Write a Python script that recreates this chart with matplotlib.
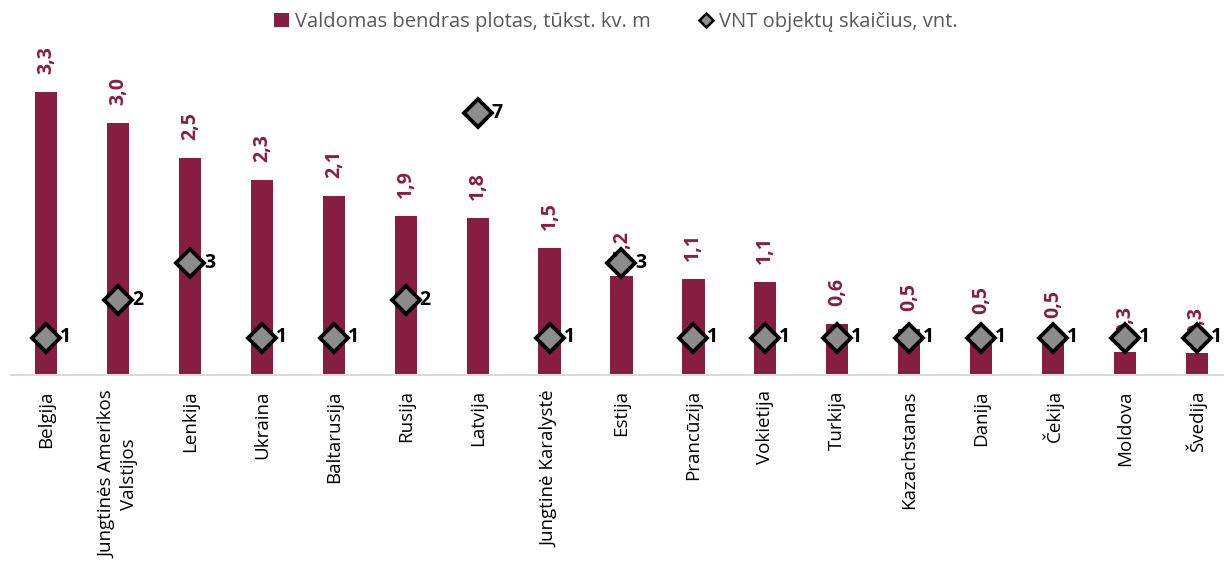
import matplotlib
matplotlib.use("Agg")
import matplotlib.pyplot as plt
from matplotlib.lines import Line2D
from matplotlib.patches import Patch

plt.rcParams['font.family'] = ['Open Sans', 'DejaVu Sans']

categories = ["Belgija", "Jungtinės Amerikos\nValstijos", "Lenkija", "Ukraina", "Baltarusija",
              "Rusija", "Latvija", "Jungtinė Karalystė", "Estija", "Prancūzija", "Vokietija",
              "Turkija", "Kazachstanas", "Danija", "Čekija", "Moldova", "Švedija"]
area_values = [3.30, 2.94, 2.53, 2.27, 2.09, 1.86, 1.83, 1.48, 1.15, 1.12, 1.08,
               0.59, 0.54, 0.50, 0.45, 0.27, 0.26]
area_labels = ["3,3", "3,0", "2,5", "2,3", "2,1", "1,9", "1,8", "1,5", "1,2", "1,1", "1,1",
               "0,6", "0,5", "0,5", "0,5", "0,3", "0,3"]
object_counts = [1, 2, 3, 1, 1, 2, 7, 1, 3, 1, 1, 1, 1, 1, 1, 1, 1]
legend_labels = ["Valdomas bendras plotas, tūkst. kv. m", "VNT objektų skaičius, vnt."]

bar_color = "#861E42"
W, H = 1224, 573
fig = plt.figure(figsize=(W / 100, H / 100), dpi=100)
ax = fig.add_axes([11 / W, (H - 375) / H, (W - 11) / W, 300 / H])
x = list(range(len(categories)))
ax.bar(x, area_values, width=0.31, color=bar_color, zorder=2)
ax.set_ylim(0, 3.5)
ax.set_xlim(-0.49, 16.38)
for xi, v, lab in zip(x, area_values, area_labels):
    ax.annotate(lab, (xi, v), xytext=(0, 13), textcoords="offset points",
                rotation=90, ha="center", va="bottom", fontsize=14, fontweight="bold",
                color=bar_color, zorder=3)

for s in ["top", "right", "left"]:
    ax.spines[s].set_visible(False)
ax.spines["bottom"].set_color("#D9D9D9")
ax.spines["bottom"].set_linewidth(1.5)
ax.set_yticks([])
ax.set_xticks(x)
ax.set_xticklabels(categories, rotation=90, fontsize=13.5, color="#000000",
                   ha="center", va="top", multialignment="center")
ax.tick_params(axis="x", length=0, pad=11)

ax2 = ax.twinx()
ax2.set_ylim(0, 8)
ax2.set_yticks([])
for s in ax2.spines.values():
    s.set_visible(False)
ax2.plot(x, object_counts, linestyle="none", marker="D", markersize=14,
         markerfacecolor="#8C8C8C", markeredgecolor="black", markeredgewidth=2.8, zorder=5,
         clip_on=False)
for xi, c in zip(x, object_counts):
    ax2.annotate(str(c), (xi, c), xytext=(10, 0), textcoords="offset points",
                 ha="left", va="center", fontsize=14, fontweight="bold", color="black")

handles = [Patch(facecolor=bar_color, edgecolor="none"),
           Line2D([], [], linestyle="none", marker="D", markersize=7,
                  markerfacecolor="#8C8C8C", markeredgecolor="black", markeredgewidth=1.8)]
leg = fig.legend(handles, legend_labels, loc="center", bbox_to_anchor=(616 / W, 1 - 22 / H),
                 ncol=2, frameon=False, fontsize=14.5, handlelength=0.7, handleheight=0.7,
                 handletextpad=0.3, columnspacing=2.4)
for t in leg.get_texts():
    t.set_color("#595959")

fig.savefig("out.png", dpi=100)
